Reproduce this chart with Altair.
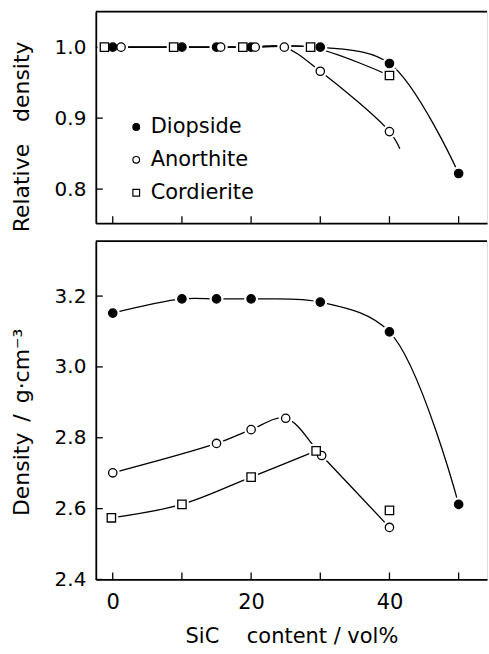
import altair as alt
import pandas as pd

series_names = ["Diopside", "Anorthite", "Cordierite"]
shape_range = ["circle", "circle", "square"]
fill_range = ["black", "white", "white"]
stroke_range = ["black", "black", "black"]

# ---- top panel: relative density (x as plotted; overlapping symbols are slightly offset)
top_x_diopside = [0, 10, 15, 20, 30, 40, 50]
top_rd_diopside = [1.0, 1.0, 1.0, 1.0, 1.0, 0.977, 0.822]
top_x_anorthite = [1.2, 15.6, 20.6, 24.8, 30, 40]
top_rd_anorthite = [1.0, 1.0, 1.0, 1.0, 0.966, 0.881]
top_x_cordierite = [-1.2, 8.8, 18.8, 28.6, 40]
top_rd_cordierite = [1.0, 1.0, 1.0, 1.0, 0.960]
top_anorthite_tail_x = [41.5]
top_anorthite_tail_rd = [0.857]

# ---- bottom panel: density / g cm^-3
bot_x_diopside = [0, 10, 15, 20, 30, 40, 50]
bot_d_diopside = [3.152, 3.192, 3.192, 3.192, 3.183, 3.099, 2.612]
bot_x_anorthite = [0, 15, 20, 25, 30.2, 40]
bot_d_anorthite = [2.701, 2.784, 2.823, 2.855, 2.750, 2.547]
bot_x_cordierite = [-0.2, 10, 20, 29.4, 40]
bot_d_cordierite = [2.574, 2.612, 2.689, 2.763, 2.595]
bot_cordierite_curve_points = 4

x_domain = [-2.45, 54.1]
x_tick_values = [0, 10, 20, 30, 40, 50]
x_label_values = [0, 20, 40]
top_y_domain = [0.752, 1.05]
top_y_ticks = [0.8, 0.9, 1.0]
bot_y_domain = [2.4, 3.355]
bot_y_ticks = [2.4, 2.6, 2.8, 3.0, 3.2]

FONT = "DejaVu Sans"
W = 392
H_TOP = 212
H_BOT = 339


def frame(xs, ys, name):
    return pd.DataFrame({"x": xs, "y": ys, "series": name})


top_points = pd.concat([
    frame(top_x_diopside, top_rd_diopside, "Diopside"),
    frame(top_x_anorthite, top_rd_anorthite, "Anorthite"),
    frame(top_x_cordierite, top_rd_cordierite, "Cordierite"),
])
top_lines = pd.concat([
    frame(top_x_diopside, top_rd_diopside, "Diopside"),
    frame(top_x_anorthite + top_anorthite_tail_x, top_rd_anorthite + top_anorthite_tail_rd, "Anorthite"),
    frame(top_x_cordierite, top_rd_cordierite, "Cordierite"),
])
bot_points = pd.concat([
    frame(bot_x_diopside, bot_d_diopside, "Diopside"),
    frame(bot_x_anorthite, bot_d_anorthite, "Anorthite"),
    frame(bot_x_cordierite, bot_d_cordierite, "Cordierite"),
])
bot_lines = pd.concat([
    frame(bot_x_diopside, bot_d_diopside, "Diopside"),
    frame(bot_x_anorthite, bot_d_anorthite, "Anorthite"),
    frame(bot_x_cordierite[:bot_cordierite_curve_points],
          bot_d_cordierite[:bot_cordierite_curve_points], "Cordierite"),
])


def panel(points_df, lines_df, y_domain, y_ticks, y_title, title_y, H, bottom_panel):
    xs = alt.Scale(domain=x_domain, nice=False, zero=False)
    ys = alt.Scale(domain=y_domain, nice=False, zero=False)
    x_axis = alt.Axis(
        orient="bottom", values=x_label_values, labels=bottom_panel, ticks=False,
        grid=False, domain=True, domainColor="black", domainWidth=1.8,
        labelFont=FONT, labelFontSize=21, labelColor="black", labelPadding=12,
        labelFlush=False,
        title="SiC\u2003\u00a0content / vol%" if bottom_panel else None,
        titleFont=FONT, titleFontSize=21, titleFontWeight="normal",
        titleColor="black", titlePadding=13,
    )
    y_axis = alt.Axis(
        values=y_ticks, format=".1f", ticks=False, grid=False, domain=True,
        domainColor="black", domainWidth=1.8,
        labelFont=FONT, labelFontSize=20, labelColor="black", labelPadding=10,
        labelFlush=False,
        title=y_title, titleFont=FONT, titleFontSize=22, titleFontWeight="normal",
        titleColor="black", titlePadding=21, titleY=title_y,
    )
    X = alt.X("x:Q", scale=xs, axis=x_axis)
    Y = alt.Y("y:Q", scale=ys, axis=y_axis)

    lines = alt.Chart(lines_df).mark_line(
        interpolate="catmull-rom", color="black", strokeWidth=1.3
    ).encode(x=X, y=Y, detail="series:N")

    # top frame line
    top_border = alt.Chart(pd.DataFrame({"x": [0]})).mark_rule(
        color="black", strokeWidth=1.8
    ).encode(x=alt.value(0), x2=alt.value(W), y=alt.value(0))

    # inward ticks
    xt = alt.Chart(pd.DataFrame({"x": x_tick_values})).mark_rule(
        color="black", strokeWidth=1.3
    ).encode(x=X, y=alt.value(H), y2=alt.value(H - 7))
    yt = alt.Chart(pd.DataFrame({"y": y_ticks})).mark_rule(
        color="black", strokeWidth=1.3
    ).encode(y=Y, x=alt.value(0), x2=alt.value(7))

    halo_c = alt.Chart(points_df).transform_filter(
        alt.datum.series != "Cordierite"
    ).mark_point(shape="circle", filled=True, color="white", opacity=1, size=200).encode(
        x=X, y=Y)
    halo_s = alt.Chart(points_df).transform_filter(
        alt.datum.series == "Cordierite"
    ).mark_point(shape="square", filled=True, color="white", opacity=1, size=190).encode(
        x=X, y=Y)

    if bottom_panel:
        leg = None
    else:
        leg = alt.Legend(
            title=None, orient="none", legendX=30, legendY=105,
            labelFont=FONT, labelFontSize=21, labelColor="black",
            labelOffset=4, rowPadding=11, symbolSize=45,
            symbolStrokeWidth=1.2, padding=0,
        )
    markers = alt.Chart(points_df).mark_point(
        filled=False, size=70, opacity=1, strokeWidth=1.3
    ).encode(
        x=X, y=Y,
        shape=alt.Shape("series:N", scale=alt.Scale(domain=series_names, range=shape_range),
                        legend=leg, sort=series_names),
        fill=alt.Fill("series:N", scale=alt.Scale(domain=series_names, range=fill_range),
                      legend=leg, sort=series_names),
        stroke=alt.Stroke("series:N", scale=alt.Scale(domain=series_names, range=stroke_range),
                          legend=leg, sort=series_names),
    )
    return alt.layer(lines, top_border, xt, yt, halo_c, halo_s, markers).properties(
        width=W, height=H)


top = panel(top_points, top_lines, top_y_domain, top_y_ticks,
            "Relative\u2003density", 125, H_TOP, False)
bottom = panel(bot_points, bot_lines, bot_y_domain, bot_y_ticks,
               "Density\u2002/\u2002g\u00b7cm\u207b\u00b3", 181, H_BOT, True)

chart = alt.vconcat(top, bottom, spacing=18, bounds="flush").resolve_scale(
    shape="independent", fill="independent", stroke="independent"
).properties(
    padding={"left": 9, "top": 9, "right": 0, "bottom": 0}
).configure_view(stroke=None).configure(background="white")

chart.save("out.html", embed_options={"renderer": "svg", "actions": False})
